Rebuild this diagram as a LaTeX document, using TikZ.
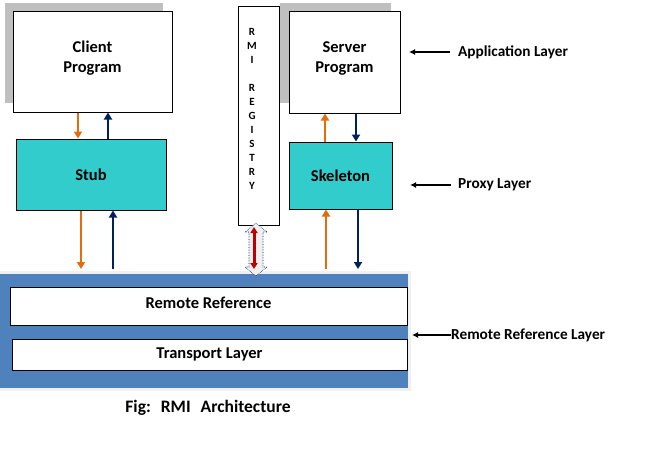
\documentclass[tikz,border=0pt]{standalone}
\usepackage{fontspec}
\setmainfont{Carlito}
\usetikzlibrary{arrows.meta}
\definecolor{tealbox}{HTML}{33CCCC}
\definecolor{panelblue}{HTML}{4F81BD}
\definecolor{orng}{HTML}{E46C0A}
\definecolor{navy}{HTML}{002060}
\definecolor{dred}{HTML}{C00000}
\tikzset{
  boxtxt/.style={font=\bfseries\fontsize{16.5}{20}\selectfont, align=center},
  wbox/.style={boxtxt, draw=black, line width=1pt, fill=white, inner sep=0pt},
  tbox/.style={wbox, fill=tealbox},
  shadowfill/.style={fill=gray!50},
  oarrow/.style={draw=orng, line width=2pt, -{Triangle[width=8pt,length=7pt]}},
  barrow/.style={draw=navy, line width=2pt, -{Triangle[width=8pt,length=7pt]}},
  karrow/.style={draw=black, line width=1.6pt, -{Latex[width=6pt,length=6pt]}},
  lbl/.style={font=\bfseries\fontsize{15.3}{17}\selectfont, inner sep=0pt, anchor=west},
}
\begin{document}
\begin{tikzpicture}[x=1pt,y=-1pt]
\useasboundingbox (0,0) rectangle (655,450);
% shadows
\fill[shadowfill] (5,3) rectangle (163,103);
\fill[shadowfill] (280,3) rectangle (391,103);
% boxes
\node[wbox, minimum width=159pt, minimum height=101pt, text depth=9pt] (client) at (92.5,61.5) {Client\\Program};
\node[tbox, minimum width=150pt, minimum height=71pt] (stub) at (91,174.5) {Stub};
\node[wbox, minimum width=111pt, minimum height=102pt, text depth=10pt] (server) at (344.5,62) {Server\\Program};
\node[tbox, minimum width=103pt, minimum height=67pt] (skel) at (340.5,175.5) {Skeleton};
\node[wbox, minimum width=41pt, minimum height=219pt] (registry) at (258.5,115.5) {};
\node[font=\bfseries\fontsize{11}{14}\selectfont, align=center, inner sep=0pt] (regtxt) at (252,109)
  {R\\M\\I\\[14pt]R\\E\\G\\I\\S\\T\\R\\Y};
% panel
\node[draw=gray!12, line width=3pt, fill=panelblue, minimum width=412pt, minimum height=117pt, inner sep=0pt] (panel) at (203,330.5) {};
\node[wbox, minimum width=397pt, minimum height=38pt, text depth=7pt] (remref) at (208.5,306) {Remote Reference};
\node[wbox, minimum width=395pt, minimum height=31pt] (transport) at (209.5,354.5) {Transport Layer};
% client <-> stub
\draw[oarrow] (client.south -| 78,0) -- (stub.north -| 78,0);
\draw[barrow] (stub.north -| 108,0) -- (client.south -| 108,0);
% stub <-> panel
\draw[oarrow] (stub.south -| 81,0) -- ([yshift=1.5pt]panel.north -| 81,0);
\draw[barrow] ([yshift=1.5pt]panel.north -| 113,0) -- (stub.south -| 113,0);
% skeleton <-> server
\draw[oarrow] (skel.north -| 325,0) -- (server.south -| 325,0);
\draw[barrow] (server.south -| 356,0) -- (skel.north -| 356,0);
% panel <-> skeleton
\draw[oarrow] ([yshift=1.5pt]panel.north -| 326,0) -- (skel.south -| 326,0);
\draw[barrow] (skel.south -| 358,0) -- ([yshift=1.5pt]panel.north -| 358,0);
% registry double arrow
\draw[fill=gray!12, draw=navy, densely dotted, line width=0.6pt]
  (256,223) -- (267,232) -- (263,232) -- (263,267) -- (267,267) -- (256,276)
  -- (245,267) -- (249,267) -- (249,232) -- (245,232) -- cycle;
\coordinate (rtop) at (254,227);
\coordinate (rbot) at (254,269);
\draw[draw=dred, line width=3pt, {Triangle[width=7pt,length=6pt]}-{Triangle[width=7pt,length=6pt]}] (rtop) -- (rbot);
% layer labels
\node[lbl] (applbl) at (458,52) {Application Layer};
\coordinate (apptip) at (409,52);
\draw[karrow] ([xshift=-8pt]applbl.west) -- (apptip);
\node[lbl] (proxlbl) at (458,185) {Proxy Layer};
\coordinate (proxtip) at (410,185);
\draw[karrow] ([xshift=-7pt]proxlbl.west) -- (proxtip);
\node[lbl] (rrlbl) at (451,335) {Remote Reference Layer};
\coordinate (rrtip) at (412,335);
\draw[karrow] (rrlbl.west) -- (rrtip);
% caption
\node[font=\bfseries\fontsize{17.5}{19}\selectfont, inner sep=0pt] (caption) at (208,408) {Fig:\hspace{10pt}RMI\hspace{10pt}Architecture};
\end{tikzpicture}
\end{document}
